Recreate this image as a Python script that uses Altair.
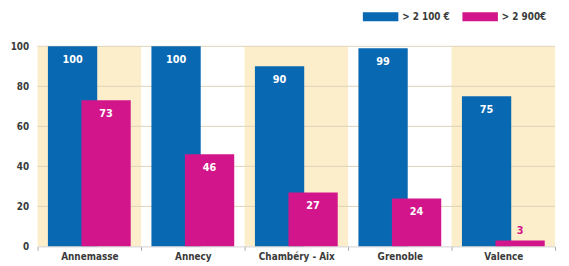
import altair as alt
import pandas as pd

cities = ["Annemasse", "Annecy", "Chambéry - Aix", "Grenoble", "Valence"]
series_names = ["> 2 100 €", "> 2 900€"]
values_2100 = [100, 100, 90, 99, 75]
values_2900 = [73, 46, 27, 24, 3]
y_ticks = [0, 20, 40, 60, 80, 100]
grid_values = [20, 40, 60, 80, 100]
shaded = [True, False, True, False, True]

BLUE = "#0868B2"
PINK = "#D3158B"
BEIGE = "#FCEECA"
FONT = "DejaVu Sans Condensed, Liberation Sans, sans-serif"

W, H = 525, 203

bg = pd.DataFrame({"city": cities, "shade": shaded})
d1 = pd.DataFrame({"city": cities, "value": values_2100, "series": series_names[0]})
d2 = pd.DataFrame({"city": cities, "value": values_2900, "series": series_names[1]})
grid = pd.DataFrame({"g": grid_values})

xenc = alt.X("city:N", sort=cities,
             scale=alt.Scale(paddingInner=0, paddingOuter=0),
             axis=alt.Axis(title=None, labelAngle=0, labelFont=FONT, labelFontWeight="bold",
                           labelFontSize=10, labelColor="#3a3a3a", labelPadding=1,
                           tickBand="extent", tickColor="#a9a9a9", tickSize=4,
                           domainColor="#d0d0d0"))
yscale = alt.Scale(domain=[0, 100], nice=False)
yenc = alt.Y("value:Q", scale=yscale,
             axis=alt.Axis(title=None, values=y_ticks, grid=False, domain=False, ticks=False,
                           labelFont=FONT, labelFontWeight="bold", labelFontSize=10,
                           labelColor="#3a3a3a", labelPadding=9))
color = alt.Color("series:N",
                  scale=alt.Scale(domain=series_names, range=[BLUE, PINK]),
                  legend=alt.Legend(title=None, orient="none", legendX=330, legendY=-48,
                                    direction="horizontal", columns=2,
                                    symbolType="M-1,-0.26H1V0.26H-1Z", symbolSize=1296,
                                    symbolStrokeWidth=0, symbolOpacity=1,
                                    labelFont=FONT, labelFontWeight="bold", labelFontSize=10,
                                    labelColor="#3a3a3a", labelOffset=4, columnPadding=12,
                                    padding=0))

background = alt.Chart(bg).mark_rect().encode(
    x=xenc,
    y=alt.value(0),
    y2=alt.value(H),
    fill=alt.condition("datum.shade", alt.value(BEIGE), alt.value("#ffffff")),
)

grid_rules = alt.Chart(grid).mark_rule(color="#ddd2b8", strokeWidth=1).encode(
    y=alt.Y("g:Q", scale=yscale)
)

bars1 = alt.Chart(d1).mark_bar(size=50, xOffset=-17).encode(x=xenc, y=yenc, color=color)
bars2 = alt.Chart(d2).mark_bar(size=50, xOffset=17).encode(x=xenc, y=yenc, color=color)

text_style = dict(font=FONT, fontWeight="bold", fontSize=11)
lab1 = alt.Chart(d1).mark_text(xOffset=-17, dy=14, color="white", baseline="middle",
                               **text_style).encode(x=xenc, y=yenc, text="value:Q")
lab2_in = alt.Chart(d2).transform_filter("datum.value >= 10").mark_text(
    xOffset=17, dy=14, color="white", baseline="middle", **text_style
).encode(x=xenc, y=yenc, text="value:Q")
lab2_out = alt.Chart(d2).transform_filter("datum.value < 10").mark_text(
    xOffset=17, dy=-4, color=PINK, baseline="bottom", **text_style
).encode(x=xenc, y=yenc, text="value:Q")

chart = alt.layer(background, grid_rules, bars1, bars2, lab1, lab2_in, lab2_out).properties(
    width=W, height=H,
    autosize=alt.AutoSizeParams(type="none"),
    padding={"left": 30, "top": 37, "right": 6, "bottom": 18},
).configure_view(stroke=None)

chart.save("out.html", embed_options={"renderer": "svg", "actions": False})
